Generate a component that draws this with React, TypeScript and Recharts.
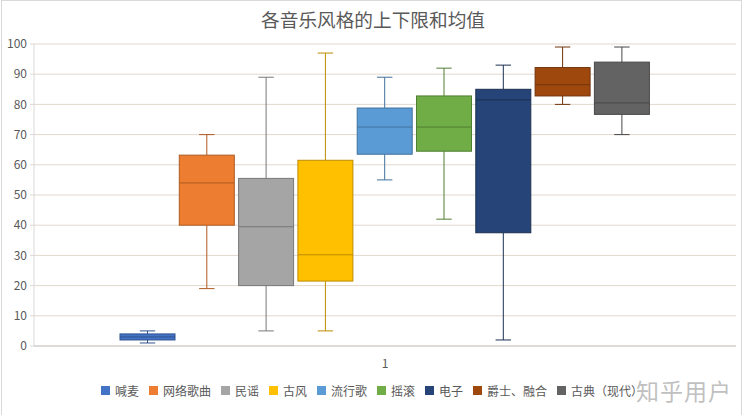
import { BarChart, Bar, XAxis, YAxis, CartesianGrid, Legend } from 'recharts';

const categories = ['1'];
const seriesNames = ['喊麦', '网络歌曲', '民谣', '古风', '流行歌', '摇滚', '电子', '爵士、融合', '古典（现代）'];
const mins =    [1, 19, 5, 5, 55, 42, 2, 80, 70];
const q1s =     [2, 40, 20, 21.5, 63.5, 64.5, 37.5, 82.8, 76.7];
const medians = [3, 54, 39.5, 30.2, 72.5, 72.5, 81.5, 86.5, 80.5];
const q3s =     [4, 63.2, 55.5, 61.5, 78.8, 82.8, 85, 92.2, 94];
const maxs =    [5, 70, 89, 97, 89, 92, 93, 99, 99];
const yTicks = [0, 10, 20, 30, 40, 50, 60, 70, 80, 90, 100];

const FILLS = ['#4472C4', '#ED7D31', '#A5A5A5', '#FFC000', '#5B9BD5', '#70AD47', '#264478', '#9E480E', '#636363'];
const EDGES = ['#2F528F', '#AE5A21', '#787878', '#BC8C00', '#41719C', '#507E32', '#1A2F52', '#71340A', '#474747'];

const data = categories.map((name) => {
  const row: Record<string, any> = { name };
  seriesNames.forEach((s, i) => {
    row[s] = [mins[i], maxs[i]];
  });
  return row;
});

const FONT = "'Noto Sans CJK SC', 'Microsoft YaHei', sans-serif";

// box drawn inside the [min, max] range bar that Recharts lays out
function makeBox(i: number) {
  return function BoxShape(props: any) {
    const { x, y, width, height } = props;
    const top = Math.min(y, y + height);
    const h = Math.abs(height);
    const lo = mins[i];
    const hi = maxs[i];
    const py = (v: number) => top + ((hi - v) * h) / (hi - lo);
    const cx = x + width / 2;
    const cap = width * 0.14;
    const edge = EDGES[i];
    return (
      <g>
        <line x1={cx} x2={cx} y1={py(hi)} y2={py(q3s[i])} stroke={edge} strokeWidth={1} />
        <line x1={cx} x2={cx} y1={py(q1s[i])} y2={py(lo)} stroke={edge} strokeWidth={1} />
        <line x1={cx - cap} x2={cx + cap} y1={py(hi)} y2={py(hi)} stroke={edge} strokeWidth={1} />
        <line x1={cx - cap} x2={cx + cap} y1={py(lo)} y2={py(lo)} stroke={edge} strokeWidth={1} />
        <rect
          x={x}
          y={py(q3s[i])}
          width={width}
          height={py(q1s[i]) - py(q3s[i])}
          fill={FILLS[i]}
          stroke={edge}
          strokeWidth={1}
        />
        <line x1={x} x2={x + width} y1={py(medians[i])} y2={py(medians[i])} stroke={edge} strokeWidth={1} />
      </g>
    );
  };
}

function BoxLegend() {
  return (
    <div
      style={{
        height: 42,
        paddingTop: 1,
        position: 'relative',
        top: -5,
        boxSizing: 'border-box',
        display: 'flex',
        justifyContent: 'center',
        gap: 10,
        fontSize: 12,
        color: '#595959',
        fontFamily: FONT,
        lineHeight: '14px',
      }}
    >
      {seriesNames.map((s, i) => (
        <span key={s} style={{ display: 'flex', alignItems: 'center', gap: 5 }}>
          <span style={{ width: 9, height: 9, background: FILLS[i], display: 'inline-block' }} />
          {s}
        </span>
      ))}
    </div>
  );
}

export default function App() {
  return (
    <div
      style={{
        position: 'absolute',
        left: 0,
        top: 0,
        width: 746,
        height: 416,
        background: '#fff',
        fontFamily: FONT,
      }}
    >
      <div
        style={{
          position: 'absolute',
          left: 1,
          top: 0,
          width: 741,
          height: 415,
          border: '1px solid #d9d9d9',
          borderBottom: 'none',
          boxSizing: 'border-box',
        }}
      />
      <div
        style={{
          position: 'absolute',
          top: 7,
          left: 0,
          width: 746,
          textAlign: 'center',
          fontSize: 18.67,
          color: '#595959',
          lineHeight: '24px',
        }}
      >
        各音乐风格的上下限和均值
      </div>
      <BarChart
        width={746}
        height={416}
        data={data}
        margin={{ top: 44, right: 10, bottom: 0, left: 8 }}
        barSize={55}
        barGap={4.3}
      >
        <CartesianGrid horizontal vertical={false} stroke="#e2d8cd" />
        <XAxis
          dataKey="name"
          axisLine={{ stroke: '#c8c8c8' }}
          tickLine={false}
          tickMargin={7}
          height={28}
          tick={{ fontSize: 12, fill: '#595959' }}
        />
        <YAxis
          domain={[0, 100]}
          ticks={yTicks}
          width={26}
          tickSize={4}
          tickMargin={3}
          axisLine={{ stroke: '#d9d9d9' }}
          tickLine={{ stroke: '#d9d9d9' }}
          tick={{ fontSize: 12, fill: '#595959' }}
          interval={0}
        />
        <Legend verticalAlign="bottom" content={<BoxLegend />} />
        {seriesNames.map((s, i) => (
          <Bar key={s} dataKey={s} fill={FILLS[i]} shape={makeBox(i)} isAnimationActive={false} />
        ))}
      </BarChart>
      <div
        style={{
          position: 'absolute',
          left: 636,
          top: 373,
          fontSize: 23,
          color: 'rgba(175,175,175,0.8)',
          letterSpacing: 1,
        }}
      >
        知乎用户
      </div>
    </div>
  );
}
